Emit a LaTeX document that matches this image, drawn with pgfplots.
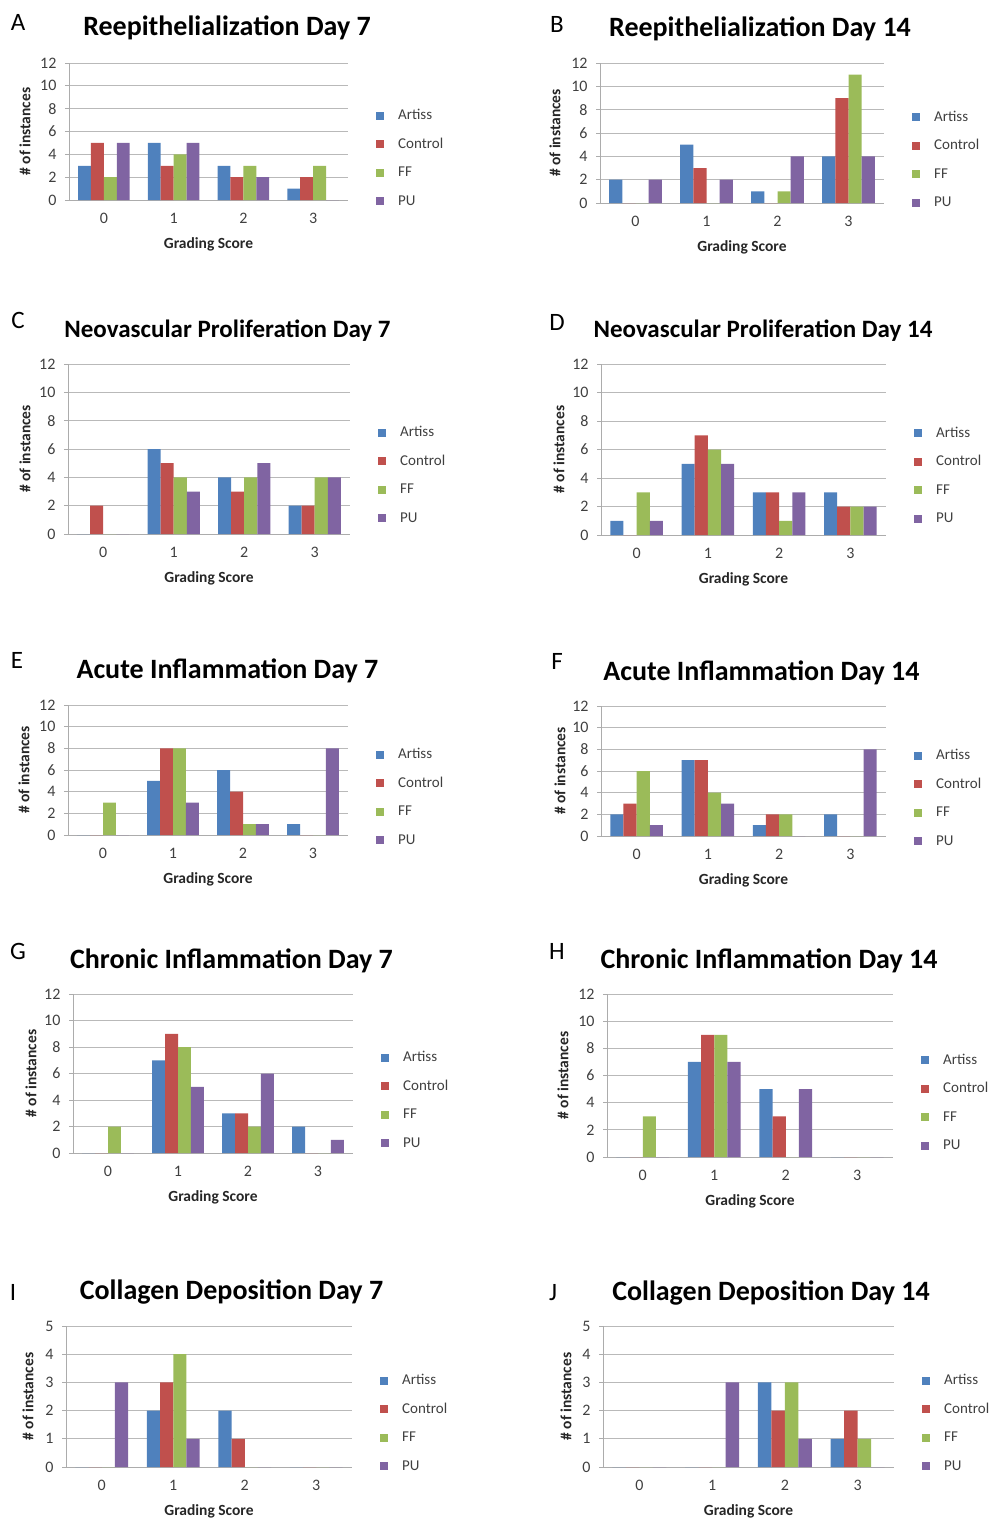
\documentclass[border=0pt]{standalone}
\usepackage{fontspec}
\setmainfont{Carlito}
\usepackage{pgfplots}
\usepackage{pgfplotstable}
\pgfplotsset{compat=1.18}

\definecolor{cArtiss}{HTML}{4F81BD}
\definecolor{cControl}{HTML}{C0504D}
\definecolor{cFF}{HTML}{9BBB59}
\definecolor{cPU}{HTML}{8064A2}

\pgfplotstableread{
x Artiss Control FF PU
0 3 5 2 5
1 5 3 4 5
2 3 2 3 2
3 1 2 3 0
}\dataA
\pgfplotstableread{
x Artiss Control FF PU
0 2 0 0 2
1 5 3 0 2
2 1 0 1 4
3 4 9 11 4
}\dataB
\pgfplotstableread{
x Artiss Control FF PU
0 0 2 0 0
1 6 5 4 3
2 4 3 4 5
3 2 2 4 4
}\dataC
\pgfplotstableread{
x Artiss Control FF PU
0 1 0 3 1
1 5 7 6 5
2 3 3 1 3
3 3 2 2 2
}\dataD
\pgfplotstableread{
x Artiss Control FF PU
0 0 0 3 0
1 5 8 8 3
2 6 4 1 1
3 1 0 0 8
}\dataE
\pgfplotstableread{
x Artiss Control FF PU
0 2 3 6 1
1 7 7 4 3
2 1 2 2 0
3 2 0 0 8
}\dataF
\pgfplotstableread{
x Artiss Control FF PU
0 0 0 2 0
1 7 9 8 5
2 3 3 2 6
3 2 0 0 1
}\dataG
\pgfplotstableread{
x Artiss Control FF PU
0 0 0 3 0
1 7 9 9 7
2 5 3 0 5
3 0 0 0 0
}\dataH
\pgfplotstableread{
x Artiss Control FF PU
0 0 0 0 3
1 2 3 4 1
2 2 1 0 0
3 0 0 0 0
}\dataI
\pgfplotstableread{
x Artiss Control FF PU
0 0 0 0 0
1 0 0 0 3
2 3 2 3 1
3 1 2 1 0
}\dataJ

\pgfplotsset{
  sqlegend/.style={legend image code/.code={\fill[##1] (0pt,-4pt) rectangle (8pt,4pt);}},
  panel/.style={
    scale only axis, anchor=south west,
    ybar=0pt, bar width=0.185,
    xmin=-0.5, xmax=3.5, ymin=0,
    xtick={0,1,2,3},
    axis x line*=bottom, axis y line*=left,
    axis line style={draw=gray!65, line width=0.8pt, -},
    ymajorgrids, major grid style={draw=gray!55, line width=0.8pt},
    x tick style={draw=none},
    y tick style={draw=gray!65, line width=0.8pt},
    tick align=outside, major tick length=4pt,
    tick label style={font=\fontsize{16}{18}\selectfont, text=black!75},
    /pgf/number format/assume math mode=true,
    xticklabel style={yshift=-6pt},
    yticklabel style={xshift=-5pt},
    xlabel={Grading Score}, ylabel={\# of instances},
    every axis x label/.style={at={(axis description cs:0.5,0)}, anchor=center, yshift=-44pt,
      font=\bfseries\fontsize{15.5}{17}\selectfont, text=black!85},
    every axis y label/.style={at={(axis description cs:0,0.5)}, anchor=center, rotate=90,
      font=\bfseries\fontsize{15.5}{17}\selectfont, text=black!85},
    legend cell align=left,
    legend style={draw=none, fill=none, anchor=west, xshift=25pt,
      font=\fontsize{15}{18}\selectfont, text=black!75,
      nodes={inner sep=0pt, text height=10pt, text depth=2pt},
      row sep=16.5pt,
      /tikz/every odd column/.append style={column sep=14pt}},
    every axis plot/.append style={draw=none, sqlegend},
  }
}

% #1 left, #2 bottom, #3 width, #4 height, #5 ymax, #6 ystep, #7 ylabel shift, #8 legend rel y, #9 table
\newcommand{\panel}[9]{%
\begin{axis}[panel, at={(#1pt,-#2pt)}, width=#3pt, height=#4pt, ymax=#5, ytick distance=#6,
  legend style={at={(1,#8)}}, ylabel style={yshift=#7pt}]
\addplot[fill=cArtiss] table[x=x,y=Artiss]{#9};
\addplot[fill=cControl] table[x=x,y=Control]{#9};
\addplot[fill=cFF] table[x=x,y=FF]{#9};
\addplot[fill=cPU] table[x=x,y=PU]{#9};
\legend{Artiss,Control,FF,PU}
\end{axis}}

\newcommand{\ttl}[3]{\node[font=\bfseries\fontsize{28}{30}\selectfont, anchor=base] at (#1pt,-#2pt) {#3};}
\newcommand{\ttlc}[3]{\node[font=\bfseries\fontsize{25}{30}\selectfont, anchor=base] at (#1pt,-#2pt) {#3};}
\newcommand{\lt}[3]{\node[font=\fontsize{25}{28}\selectfont, anchor=base] at (#1pt,-#2pt) {#3};}

\begin{document}
\begin{tikzpicture}
\useasboundingbox (0,0) rectangle (989pt,-1519pt);

\panel{69}{200}{279}{137}{12}{2}{44}{0.303}{\dataA}
\panel{600}{203}{284}{140}{12}{2}{45}{0.307}{\dataB}
\panel{68}{534}{282}{170}{12}{2}{43}{0.344}{\dataC}
\panel{601}{535}{285}{171}{12}{2}{42}{0.345}{\dataD}
\panel{68}{835}{280}{130}{12}{2}{44}{0.29}{\dataE}
\panel{601}{836}{285}{130}{12}{2}{41}{0.29}{\dataF}
\panel{73}{1153}{280}{159}{12}{2}{42}{0.33}{\dataG}
\panel{607}{1157}{286}{163}{12}{2}{44}{0.33}{\dataH}
\panel{66}{1467}{286}{141}{5}{1}{38}{0.31}{\dataI}
\panel{603}{1467}{291}{141}{5}{1}{37}{0.31}{\dataJ}

\ttl{227}{35}{Reepithelialization Day 7}
\ttl{760}{36}{Reepithelialization Day 14}
\ttlc{227.5}{337}{Neovascular Proliferation Day 7}
\ttlc{763}{337}{Neovascular Proliferation Day 14}
\ttl{227.5}{678}{Acute Inflammation Day 7}
\ttl{761.5}{680}{Acute Inflammation Day 14}
\ttl{231.5}{968}{Chronic Inflammation Day 7}
\ttl{769}{968}{Chronic Inflammation Day 14}
\ttl{231.5}{1299}{Collagen Deposition Day 7}
\ttl{771}{1300}{Collagen Deposition Day 14}

\lt{18}{30}{A}
\lt{557}{32}{B}
\lt{18}{328}{C}
\lt{557}{330}{D}
\lt{17}{668}{E}
\lt{557}{669}{F}
\lt{18}{959}{G}
\lt{557}{959}{H}
\lt{13}{1300}{I}
\lt{553}{1300}{J}
\end{tikzpicture}
\end{document}
